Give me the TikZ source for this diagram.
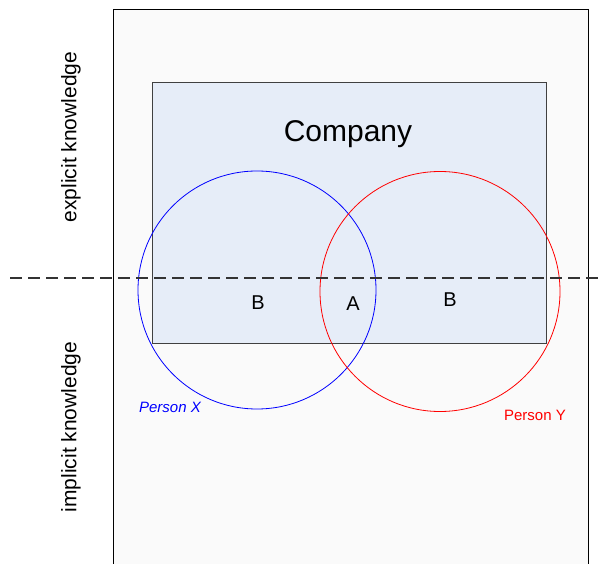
\documentclass[tikz,border=0pt]{standalone}
\usepackage{fontspec}
\setmainfont{Liberation Sans}
\usetikzlibrary{calc}

\definecolor{pagegray}{HTML}{FAFAFA}
\definecolor{companyblue}{HTML}{E6EDF8}
\definecolor{framegray}{HTML}{404040}

\tikzset{
  circlelabel/.style={font=\fontsize{20}{24}\selectfont},
  sidelabel/.style={font=\fontsize{21}{25}\selectfont, rotate=90},
  personlabel/.style={font=\fontsize{15}{18}\selectfont}
}

\begin{document}
\begin{tikzpicture}[x=1pt, y=-1pt]
        \useasboundingbox (0,0) rectangle (598,564);
        \clip (0,0) rectangle (598,564);

        \coordinate (O1) at (113.5,9.5);
        \coordinate (O2) at (588.5,580);
        \coordinate (C1) at (152,82.5);
        \coordinate (C2) at (546,344);
        \coordinate (X) at (257,290);
        \coordinate (Y) at (440,291.5);

        % background sheet
        \draw[fill=pagegray, line width=1pt] (O1) rectangle (O2);

        % the company
        \draw[fill=companyblue, draw=framegray, line width=1pt] (C1) rectangle (C2);
        \node[font=\fontsize{30}{35}\selectfont] (company) at (348,134) {Company};

        % the two persons
        \draw[blue, line width=0.8pt] (X) circle (119);
        \draw[red, line width=0.8pt] (Y) circle (120);
        \node[personlabel, blue, font=\fontsize{15}{18}\selectfont\itshape] (px) at (170,407) {Person X};
        \node[personlabel, red] (py) at (535,415) {Person Y};

        % knowledge areas
        \node[circlelabel] (bx) at (258,303) {B};
        \node[circlelabel] (a) at (353,304) {A};
        \node[circlelabel] (by) at (450,300) {B};

        % boundary explicit / implicit
        \coordinate (L) at (10,278);
        \coordinate (R) at (598,278);
        \draw[framegray!80!black, line width=1.3pt, dash pattern=on 12pt off 6pt] (L) -- (R);

        \node[sidelabel] (explicit) at (71,137) {explicit knowledge};
        \node[sidelabel] (implicit) at (71,427) {implicit knowledge};
    \end{tikzpicture}
\end{document}
